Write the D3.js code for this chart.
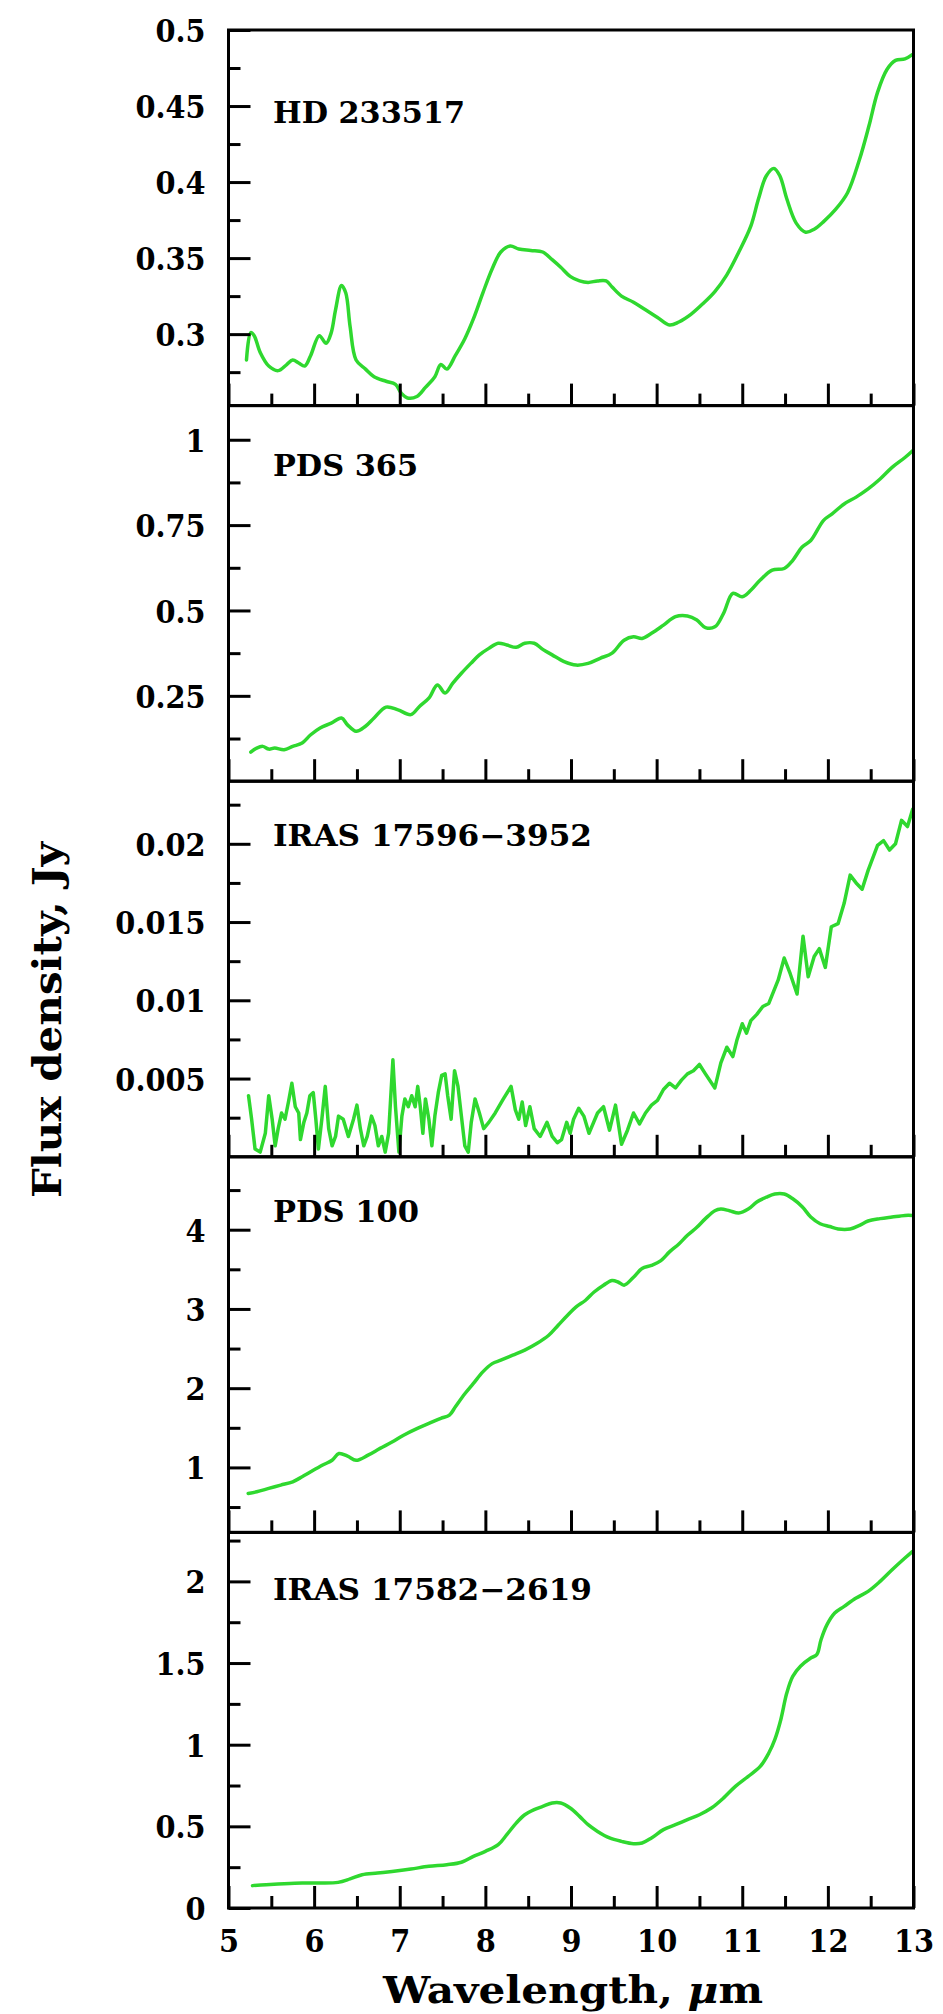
<!DOCTYPE html>
<html>
<head>
<meta charset="utf-8">
<script src="https://cdn.jsdelivr.net/npm/d3@7"></script>
<style>
  html, body { margin: 0; padding: 0; background: #fff; }
  svg { display: block; }
  .lbl { font-family: "DejaVu Serif Condensed", "DejaVu Serif", serif; font-stretch: condensed; font-weight: bold; fill: #000; }
  .title { font-family: "DejaVu Serif", serif; font-weight: bold; fill: #000; }
</style>
</head>
<body>
<svg id="chart" width="943" height="2014"></svg>
<script>
// ---- data: wavelength (µm), flux density (Jy) ----
const hd233517 = [
  [5.21,0.283],[5.26,0.301],[5.30,0.299],[5.37,0.288],[5.47,0.279],[5.58,0.276],[5.68,0.280],[5.75,0.283],
  [5.82,0.281],[5.89,0.279],[5.96,0.286],[6.06,0.299],[6.14,0.294],[6.20,0.301],[6.25,0.316],[6.32,0.332],
  [6.37,0.327],[6.42,0.305],[6.49,0.283],[6.60,0.277],[6.70,0.272],[6.84,0.269],[6.95,0.267],[7.02,0.261],
  [7.09,0.258],[7.20,0.259],[7.30,0.265],[7.41,0.272],[7.48,0.280],[7.55,0.277],[7.65,0.286],[7.76,0.297],
  [7.86,0.310],[7.97,0.327],[8.08,0.343],[8.18,0.354],[8.29,0.358],[8.39,0.356],[8.53,0.355],[8.67,0.354],
  [8.78,0.349],[8.88,0.344],[8.99,0.338],[9.10,0.335],[9.20,0.334],[9.31,0.335],[9.41,0.335],[9.48,0.331],
  [9.59,0.325],[9.73,0.321],[9.87,0.316],[10.01,0.311],[10.15,0.306],[10.26,0.308],[10.40,0.313],[10.54,0.320],
  [10.68,0.328],[10.82,0.339],[10.96,0.354],[11.10,0.371],[11.19,0.389],[11.28,0.404],[11.37,0.409],[11.44,0.404],
  [11.52,0.389],[11.63,0.373],[11.74,0.367],[11.84,0.369],[11.95,0.374],[12.09,0.382],[12.23,0.393],[12.37,0.415],
  [12.48,0.437],[12.58,0.459],[12.69,0.474],[12.79,0.480],[12.90,0.481],[12.99,0.484]
];
const pds365 = [
  [5.26,0.085],[5.33,0.097],[5.40,0.102],[5.47,0.094],[5.54,0.097],[5.65,0.092],[5.75,0.102],[5.86,0.112],
  [5.96,0.136],[6.07,0.156],[6.20,0.170],[6.32,0.185],[6.39,0.165],[6.49,0.146],[6.60,0.161],[6.70,0.185],
  [6.84,0.217],[6.98,0.209],[7.13,0.195],[7.23,0.219],[7.34,0.243],[7.44,0.282],[7.53,0.258],[7.62,0.287],
  [7.72,0.316],[7.83,0.345],[7.93,0.370],[8.04,0.389],[8.15,0.404],[8.25,0.399],[8.36,0.392],[8.46,0.404],
  [8.57,0.404],[8.67,0.386],[8.78,0.370],[8.92,0.350],[9.06,0.340],[9.20,0.345],[9.34,0.360],[9.48,0.375],
  [9.62,0.413],[9.73,0.423],[9.83,0.418],[9.94,0.433],[10.08,0.457],[10.22,0.482],[10.36,0.484],[10.47,0.472],
  [10.57,0.450],[10.68,0.452],[10.78,0.491],[10.89,0.550],[11.00,0.540],[11.10,0.559],[11.21,0.589],[11.35,0.618],
  [11.49,0.623],[11.59,0.647],[11.70,0.686],[11.80,0.705],[11.95,0.764],[12.05,0.783],[12.19,0.812],[12.33,0.832],
  [12.47,0.856],[12.61,0.885],[12.75,0.919],[12.90,0.948],[12.99,0.968]
];
const iras17596 = [
  [5.234,0.0039],[5.27,0.0024],[5.31,0.0005],[5.37,0.0003],[5.43,0.0015],[5.47,0.0039],[5.51,0.0024],[5.545,0.0007],
  [5.58,0.0018],[5.62,0.0028],[5.66,0.0024],[5.70,0.0035],[5.74,0.0047],[5.78,0.0032],[5.82,0.0028],[5.84,0.0011],
  [5.88,0.0022],[5.915,0.0028],[5.95,0.0039],[5.99,0.0041],[6.02,0.0024],[6.05,0.0005],[6.09,0.0024],[6.13,0.0045],
  [6.17,0.0018],[6.21,0.0007],[6.25,0.0013],[6.285,0.0026],[6.34,0.0024],[6.40,0.0013],[6.46,0.0024],[6.50,0.0033],
  [6.54,0.0018],[6.58,0.0007],[6.62,0.0013],[6.67,0.0026],[6.71,0.0020],[6.75,0.0007],[6.79,0.0013],[6.83,0.0003],
  [6.87,0.0015],[6.92,0.0062],[6.95,0.0032],[6.99,0.0003],[7.025,0.0026],[7.06,0.0037],[7.10,0.0032],[7.14,0.0039],
  [7.18,0.0032],[7.21,0.0045],[7.24,0.0032],[7.27,0.0015],[7.30,0.0037],[7.34,0.0024],[7.375,0.0007],[7.41,0.0026],
  [7.45,0.0041],[7.49,0.0052],[7.53,0.0053],[7.56,0.0039],[7.60,0.0024],[7.64,0.0055],[7.68,0.0045],[7.72,0.0026],
  [7.76,0.0007],[7.80,0.0003],[7.835,0.0022],[7.88,0.0037],[7.93,0.0028],[7.98,0.0018],[8.04,0.0022],[8.115,0.0028],
  [8.21,0.0037],[8.30,0.0045],[8.35,0.0030],[8.39,0.0024],[8.43,0.0035],[8.47,0.0020],[8.52,0.0032],[8.57,0.0018],
  [8.64,0.0013],[8.72,0.0022],[8.78,0.0013],[8.84,0.0009],[8.89,0.0011],[8.95,0.0022],[8.99,0.0015],[9.03,0.0024],
  [9.09,0.0031],[9.15,0.0026],[9.21,0.0015],[9.31,0.0028],[9.38,0.0032],[9.45,0.0017],[9.52,0.0033],[9.59,0.0008],
  [9.66,0.0017],[9.73,0.0028],[9.80,0.0021],[9.87,0.0028],[9.94,0.0033],[10.01,0.0036],[10.08,0.0043],[10.15,0.0047],
  [10.22,0.0044],[10.29,0.0049],[10.36,0.0053],[10.43,0.0055],[10.50,0.0059],[10.57,0.0053],[10.68,0.0044],[10.75,0.0060],
  [10.82,0.0070],[10.89,0.0064],[10.94,0.0075],[11.00,0.0085],[11.05,0.0079],[11.10,0.0087],[11.17,0.0091],[11.24,0.0096],
  [11.31,0.0098],[11.42,0.0113],[11.49,0.0127],[11.56,0.0117],[11.64,0.0104],[11.71,0.0141],[11.77,0.0115],[11.84,0.0128],
  [11.90,0.0133],[11.97,0.0121],[12.04,0.0147],[12.12,0.0149],[12.19,0.0162],[12.26,0.0180],[12.33,0.0175],[12.40,0.0171],
  [12.47,0.0183],[12.58,0.0199],[12.65,0.0202],[12.72,0.0196],[12.79,0.0200],[12.86,0.0215],[12.93,0.0211],[12.99,0.0222]
];
const pds100 = [
  [5.23,0.672],[5.33,0.693],[5.47,0.735],[5.61,0.777],[5.75,0.819],[5.86,0.882],[5.96,0.945],[6.10,1.03],
  [6.21,1.09],[6.29,1.176],[6.39,1.143],[6.49,1.09],[6.63,1.155],[6.77,1.24],[6.91,1.32],[7.05,1.41],
  [7.20,1.49],[7.34,1.555],[7.48,1.62],[7.58,1.66],[7.65,1.765],[7.76,1.93],[7.86,2.06],[7.97,2.206],
  [8.08,2.31],[8.18,2.353],[8.32,2.416],[8.46,2.48],[8.60,2.563],[8.74,2.668],[8.85,2.794],[8.96,2.92],
  [9.06,3.025],[9.17,3.11],[9.27,3.214],[9.38,3.30],[9.48,3.36],[9.55,3.34],[9.62,3.30],[9.73,3.40],
  [9.83,3.51],[9.94,3.55],[10.05,3.61],[10.15,3.72],[10.26,3.82],[10.36,3.93],[10.47,4.03],[10.57,4.14],
  [10.68,4.24],[10.75,4.26],[10.85,4.24],[10.96,4.21],[11.07,4.26],[11.17,4.35],[11.28,4.41],[11.38,4.45],
  [11.49,4.45],[11.59,4.39],[11.70,4.29],[11.80,4.16],[11.91,4.075],[12.02,4.04],[12.12,4.01],[12.26,4.01],
  [12.37,4.055],[12.47,4.11],[12.61,4.14],[12.75,4.16],[12.90,4.18],[12.99,4.18]
];
const iras17582 = [
  [5.28,0.137],[5.44,0.143],[5.65,0.149],[5.86,0.153],[6.07,0.153],[6.28,0.157],[6.42,0.178],[6.56,0.204],
  [6.74,0.214],[6.91,0.224],[7.13,0.239],[7.34,0.255],[7.55,0.265],[7.72,0.280],[7.86,0.316],[8.00,0.347],
  [8.15,0.388],[8.25,0.449],[8.36,0.520],[8.46,0.571],[8.57,0.602],[8.67,0.622],[8.78,0.643],[8.88,0.643],
  [8.99,0.612],[9.10,0.561],[9.20,0.510],[9.31,0.469],[9.45,0.429],[9.59,0.408],[9.73,0.394],[9.83,0.398],
  [9.94,0.429],[10.08,0.480],[10.22,0.510],[10.36,0.541],[10.50,0.571],[10.64,0.612],[10.78,0.673],[10.92,0.745],
  [11.07,0.806],[11.21,0.867],[11.31,0.949],[11.38,1.031],[11.45,1.153],[11.52,1.316],[11.59,1.418],[11.68,1.480],
  [11.80,1.531],[11.87,1.551],[11.92,1.643],[11.99,1.735],[12.08,1.806],[12.19,1.847],[12.33,1.898],[12.47,1.939],
  [12.61,2.000],[12.75,2.071],[12.90,2.143],[12.99,2.184]
];

const spectra = [hd233517, pds365, iras17596, pds100, iras17582];
const panelNames = ["HD 233517", "PDS 365", "IRAS 17596\u22123952", "PDS 100", "IRAS 17582\u22122619"];

// axis ranges and ticks
const xDomain = [5, 13];
const xMajorTicks = [5, 6, 7, 8, 9, 10, 11, 12, 13];
const xMinorTicks = [5.5, 6.5, 7.5, 8.5, 9.5, 10.5, 11.5, 12.5];
const xTickLabels = ["5", "6", "7", "8", "9", "10", "11", "12", "13"];

const yDomains = [[0.253, 0.5], [0, 1.1], [0, 0.024], [0.18, 4.92], [0, 2.3]];
const yMajorTicks = [
  [0.3, 0.35, 0.4, 0.45, 0.5],
  [0.25, 0.5, 0.75, 1],
  [0.005, 0.01, 0.015, 0.02],
  [1, 2, 3, 4],
  [0, 0.5, 1, 1.5, 2]
];
const yMinorTicks = [
  [0.275, 0.325, 0.375, 0.425, 0.475],
  [0.125, 0.375, 0.625, 0.875],
  [0.0025, 0.0075, 0.0125, 0.0175, 0.0225],
  [0.5, 1.5, 2.5, 3.5, 4.5],
  [0.25, 0.75, 1.25, 1.75, 2.25]
];
const yTickLabels = [
  ["0.3", "0.35", "0.4", "0.45", "0.5"],
  ["0.25", "0.5", "0.75", "1"],
  ["0.005", "0.01", "0.015", "0.02"],
  ["1", "2", "3", "4"],
  ["0", "0.5", "1", "1.5", "2"]
];

// ---- layout ----
const plotLeft = 228.5, plotRight = 913.5;
const plotTop = 30, plotBottom = 1908;
const nPanels = spectra.length;
const panelH = (plotBottom - plotTop) / nPanels;
const labelDrop = [93, 70, 65, 65.5, 68];        // name baseline below panel top
const labelWidth = [192, 145, 319, 146, 319];
const noisyPanel = 2;                              // drawn without smoothing
const lineColor = "#2fd82f";
const majorLen = 22, minorLen = 12;

const svg = d3.select("#chart");
const x = d3.scaleLinear().domain(xDomain).range([plotLeft, plotRight]);

const fmtFrom = (vals, labels) => d => labels[vals.indexOf(d)];

spectra.forEach((series, i) => {
  const top = plotTop + i * panelH;
  const bottom = top + panelH;
  const y = d3.scaleLinear().domain(yDomains[i]).range([bottom, top]);

  const g = svg.append("g");

  const clipId = "clip" + i;
  g.append("clipPath").attr("id", clipId)
    .append("rect").attr("x", plotLeft).attr("y", top)
    .attr("width", plotRight - plotLeft).attr("height", panelH);

  // spectrum
  const line = d3.line()
    .x(d => x(d[0])).y(d => y(d[1]))
    .curve(i === noisyPanel ? d3.curveLinear : d3.curveCatmullRom.alpha(0.5));
  g.append("path")
    .datum(series)
    .attr("clip-path", `url(#${clipId})`)
    .attr("d", line)
    .attr("fill", "none")
    .attr("stroke", lineColor)
    .attr("stroke-width", 3.5)
    .attr("stroke-linejoin", "round")
    .attr("stroke-linecap", "round");

  // bottom ticks (pointing up into the panel)
  const xMajor = d3.axisBottom(x).tickValues(xMajorTicks).tickSize(-majorLen).tickPadding(21)
    .tickFormat(i === nPanels - 1 ? fmtFrom(xMajorTicks, xTickLabels) : () => "");
  const xMinor = d3.axisBottom(x).tickValues(xMinorTicks).tickSize(-minorLen).tickFormat(() => "");
  g.append("g").attr("transform", `translate(0,${bottom})`).call(xMajor);
  g.append("g").attr("transform", `translate(0,${bottom})`).call(xMinor);

  // left ticks (pointing right into the panel)
  const yMajor = d3.axisLeft(y).tickValues(yMajorTicks[i]).tickSize(-majorLen).tickPadding(23)
    .tickFormat(fmtFrom(yMajorTicks[i], yTickLabels[i]));
  const yMinor = d3.axisLeft(y).tickValues(yMinorTicks[i]).tickSize(-minorLen).tickFormat(() => "");
  const gy = g.append("g").attr("transform", `translate(${plotLeft},0)`).call(yMajor);
  g.append("g").attr("transform", `translate(${plotLeft},0)`).call(yMinor);

  g.selectAll(".domain").remove();
  g.selectAll(".tick line").attr("stroke", "#000").attr("stroke-width", 3);
  g.selectAll(".tick text")
    .attr("class", "lbl")
    .attr("font-size", null).attr("font-family", null)
    .style("font-size", "32px")
    .attr("fill", "#000");
  gy.selectAll(".tick text").attr("dy", "0.36em");

  // frame
  g.append("rect")
    .attr("x", plotLeft).attr("y", top)
    .attr("width", plotRight - plotLeft).attr("height", panelH)
    .attr("fill", "none").attr("stroke", "#000").attr("stroke-width", 3);

  // object name
  g.append("text")
    .attr("class", "lbl")
    .attr("x", 273).attr("y", top + labelDrop[i])
    .style("font-size", "30px")
    .attr("textLength", labelWidth[i])
    .attr("lengthAdjust", "spacingAndGlyphs")
    .text(panelNames[i]);
});

// axis titles
const xt = svg.append("text")
  .attr("class", "title")
  .attr("x", (plotLeft + plotRight) / 2 + 2).attr("y", 2003)
  .attr("text-anchor", "middle")
  .style("font-size", "38px")
  .attr("textLength", 380)
  .attr("lengthAdjust", "spacingAndGlyphs");
xt.append("tspan").text("Wavelength, ");
xt.append("tspan").style("font-style", "italic").text("\u03bc");
xt.append("tspan").text("m");

svg.append("text")
  .attr("class", "title")
  .attr("transform", "translate(61,1020) rotate(-90)")
  .attr("text-anchor", "middle")
  .style("font-size", "40px")
  .attr("textLength", 356)
  .attr("lengthAdjust", "spacingAndGlyphs")
  .text("Flux density, Jy");
</script>
</body>
</html>
